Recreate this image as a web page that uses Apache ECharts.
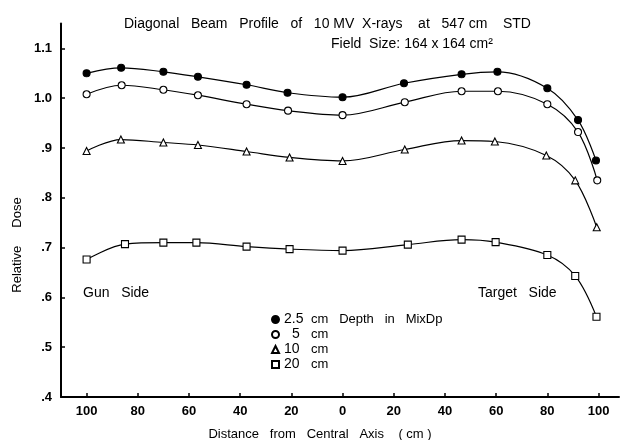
<!DOCTYPE html>
<html>
<head>
<meta charset="utf-8">
<script src="https://cdn.jsdelivr.net/npm/echarts@6/dist/echarts.min.js"></script>
<style>
  html, body { margin: 0; padding: 0; background: #fff; }
  #chart { width: 620px; height: 440px; }
</style>
</head>
<body>
<div id="chart"></div>
<script>
// distance from central axis: gun side negative, target side positive
const depth25X = [-100, -86.5, -70, -56.5, -37.5, -21.5, 0, 24, 46.5, 60.5, 80, 92, 99];
const depth25Y = [1.050, 1.061, 1.053, 1.043, 1.027, 1.011, 1.002, 1.030, 1.048, 1.053, 1.020, 0.956, 0.875];

const depth5X = [-100, -86.3, -70, -56.5, -37.5, -21.3, 0, 24.3, 46.5, 60.7, 80, 92, 99.5];
const depth5Y = [1.008, 1.026, 1.017, 1.006, 0.988, 0.975, 0.966, 0.992, 1.014, 1.014, 0.988, 0.932, 0.835];

const depth10X = [-100, -86.6, -70, -56.5, -37.5, -20.7, 0, 24.3, 46.5, 59.5, 79.6, 90.9, 99.3];
const depth10Y = [0.894, 0.917, 0.911, 0.906, 0.893, 0.881, 0.874, 0.897, 0.915, 0.913, 0.885, 0.835, 0.741];

const depth20X = [-100, -85, -70, -57.1, -37.5, -20.7, 0, 25.5, 46.5, 59.8, 80, 90.9, 99.2];
const depth20Y = [0.676, 0.707, 0.710, 0.710, 0.702, 0.697, 0.694, 0.706, 0.716, 0.711, 0.685, 0.643, 0.561];

const xTicks = [-100, -80, -60, -40, -20, 0, 20, 40, 60, 80, 100];
const yTicks = [0.4, 0.5, 0.6, 0.7, 0.8, 0.9, 1.0, 1.1];

const depthNames = ["2.5", "5", "10", "20"];
const depthSymbols = ["circle", "circle", "triangle", "rect"];

const pairs = (xs, ys) => xs.map((x, i) => [x, ys[i]]);

const chart = echarts.init(document.getElementById("chart"));
const font = "Liberation Sans";

// white-filled markers with black outline
const makeSeries = (name, symbol, fill, xs, ys) => ({
  name: name,
  type: "line",
  smooth: 0.35,
  symbol: symbol,
  symbolSize: 7,
  lineStyle: { color: "#000", width: 1.2, type: "solid" },
  itemStyle: { color: fill, borderColor: "#000", borderWidth: 1.1 },
  data: pairs(xs, ys),
  z: 3,
});

const option = {
  animation: false,
  backgroundColor: "#fff",
  textStyle: { fontFamily: font, color: "#000" },
  title: [
    {
      text: "Diagonal   Beam   Profile   of   10 MV  X-rays    at   547 cm    STD",
      left: 119,
      top: 12,
      textStyle: { fontFamily: font, fontSize: 14, fontWeight: "normal", color: "#000" },
    },
    {
      text: "Field  Size: 164 x 164 cm²",
      left: 326,
      top: 32,
      textStyle: { fontFamily: font, fontSize: 14, fontWeight: "normal", color: "#000" },
    },
  ],
  grid: { left: 61, right: 1, top: 23.5, bottom: 43, outerBoundsMode: "none" },
  legend: {
    data: depthNames.map((n, i) => ({ name: n, icon: depthSymbols[i] })),
    orient: "vertical",
    left: 266,
    top: 307,
    itemWidth: 7,
    itemHeight: 7,
    itemGap: 0,
    formatter: (name) => {
      if (name === "2.5") return "{n|" + name + "}{u|cm   Depth   in   MixDp}";
      if (name === "5") return "{m|" + name + "}{u|cm}";
      return "{n|" + name + "}{u|cm}";
    },
    textStyle: {
      fontFamily: font,
      fontSize: 13,
      color: "#000",
      lineHeight: 15,
      rich: {
        n: { width: 27, fontSize: 14, fontFamily: font, lineHeight: 15 },
        m: { width: 19, fontSize: 14, fontFamily: font, lineHeight: 15, padding: [0, 0, 0, 8] },
        u: { fontSize: 13, fontFamily: font, lineHeight: 15 },
      },
    },
  },
  xAxis: {
    type: "value",
    min: -110,
    max: 108,
    name: "Distance   from   Central   Axis    ( cm )",
    nameLocation: "middle",
    nameGap: 31,
    nameTextStyle: { fontFamily: font, fontSize: 13, color: "#000", padding: [0, 0, 0, -40] },
    axisLine: { onZero: false, lineStyle: { color: "#000", width: 2 } },
    axisTick: { inside: true, length: 4, customValues: xTicks, lineStyle: { color: "#000", width: 1.5 } },
    axisLabel: {
      customValues: xTicks,
      formatter: (v) => String(Math.abs(v)),
      fontFamily: font,
      fontSize: 13,
      fontWeight: "bold",
      color: "#000",
      margin: 8,
    },
    splitLine: { show: false },
  },
  yAxis: {
    type: "value",
    min: 0.4,
    max: 1.15,
    axisLine: { show: true, onZero: false, lineStyle: { color: "#000", width: 2 } },
    axisTick: { show: true, inside: true, length: 4, customValues: yTicks, lineStyle: { color: "#000", width: 1.5 } },
    axisLabel: {
      customValues: yTicks,
      formatter: (v) => (v < 0.95 ? "." + Math.round(v * 10) : v.toFixed(1)),
      fontFamily: font,
      fontSize: 13,
      fontWeight: "bold",
      color: "#000",
      margin: 9,
    },
    splitLine: { show: false },
  },
  graphic: [
    {
      type: "text",
      x: 17,
      y: 245,
      rotation: Math.PI / 2,
      style: { text: "Relative     Dose", font: "13px " + font, fill: "#000", align: "center", verticalAlign: "middle" },
    },
    { type: "text", left: 83, top: 286, style: { text: "Gun   Side", font: "14px " + font, fill: "#000" } },
    { type: "text", left: 478, top: 286, style: { text: "Target   Side", font: "14px " + font, fill: "#000" } },
  ],
  series: [
    makeSeries("2.5", "circle", "#000", depth25X, depth25Y),
    makeSeries("5", "circle", "#fff", depth5X, depth5Y),
    makeSeries("10", "triangle", "#fff", depth10X, depth10Y),
    makeSeries("20", "rect", "#fff", depth20X, depth20Y),
  ],
};

chart.setOption(option);
</script>
</body>
</html>
